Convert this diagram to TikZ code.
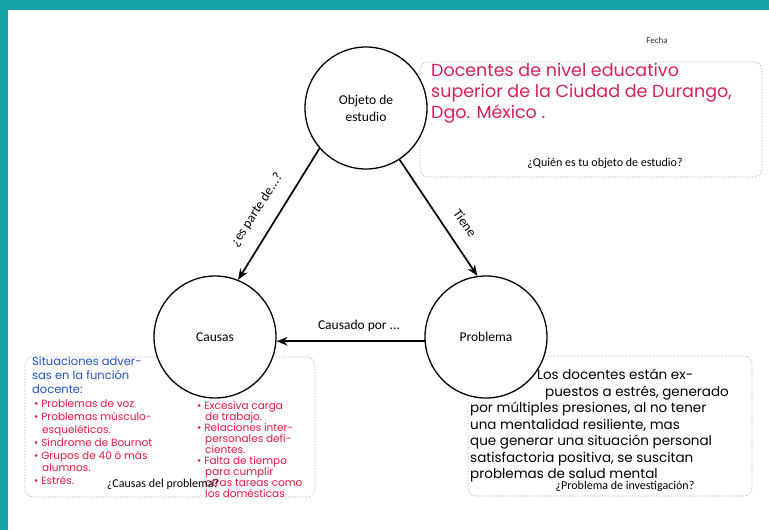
\documentclass[tikz,border=0pt]{standalone}
\usepackage{fontspec}
\setmainfont{Carlito}
\newfontfamily\hand{Poppins}
\usetikzlibrary{arrows.meta, positioning}

\definecolor{frameteal}{RGB}{22,162,166}
\definecolor{inkpink}{RGB}{214,32,92}
\definecolor{inkred}{RGB}{230,22,68}
\definecolor{inkblue}{RGB}{34,82,190}

\begin{document}
\begin{tikzpicture}[
    x=1pt, y=-1pt,
    topic/.style={
        circle, draw, line width=1.3pt, fill=white,
        minimum size=122pt, inner sep=0pt,
        font=\fontsize{13.5}{17}\selectfont, align=center
    },
    note/.style={
        draw=gray!55, dash pattern=on 1.5pt off 1.5pt,
        line width=0.6pt, rounded corners=8pt
    },
    ask/.style={font=\fontsize{12}{14}\selectfont},
    ink/.style={anchor=north west, inner sep=0pt, align=left},
    lbl/.style={font=\fontsize{13.5}{16}\selectfont},
    arr/.style={-{Stealth[length=11pt, width=8.5pt]}, line width=1.7pt},
]

\useasboundingbox (0,0) rectangle (769,530);

% frame
\fill[frameteal] (0,0) rectangle (769,10);
\fill[frameteal] (0,0) rectangle (8,530);

\begin{scope}
\clip (600,37) rectangle (720,50);
\node[font=\fontsize{9}{10}\selectfont, text=black!80] (fecha) at (657,40) {Fecha};
\end{scope}

% Notes: dashed boxes
\node[note, minimum width=342pt, minimum height=115pt] (quienbox) at (591,119.5) {};
\node[note, minimum width=290pt, minimum height=140pt] (causasbox) at (170,427) {};
\node[note, minimum width=284pt, minimum height=140pt] (problemabox) at (610,426) {};

% Circles
\node[topic] (objeto) at (366,108) {Objeto de\\estudio};
\node[topic] (causas) at (215,337) {Causas};
\node[topic] (problema) at (486,337) {Problema};

% Arrows
\draw[arr] (objeto.221) -- (causas.68);
\draw[arr] (objeto.303) -- (problema.98);
\draw[arr] (problema.184) -- (causas.356);

\node[lbl, rotate=57] (parte) at (257,210) {¿es parte de...?};
\node[lbl, rotate=-55] (tiene) at (465,223) {Tiene};
\node[lbl] (causado) at (359,326) {Causado por ...};

% Objeto de estudio note
\node[ink, text=inkpink, font=\hand\fontsize{17.5}{21}\selectfont] (quientext) at (431,63)
    {Docentes de nivel educativo\\superior de la Ciudad de Durango,\\Dgo. México .};
\node[ask] (quienq) at (605,163) {¿Quién es tu objeto de estudio?};

% Causas note
\node[ink, text=inkblue, font=\hand\fontsize{11.5}{14}\selectfont] (causastext) at (32,357)
    {Situaciones adver-\\sas en la función\\docente:};
\node[ink, text=inkred, font=\hand\fontsize{10.5}{12.8}\selectfont] (causasleft) at (34,400)
    {\textbullet\ Problemas de voz\\\textbullet\ Problemas músculo-\\\hspace*{8pt}esqueléticos.\\\textbullet\ Síndrome de Bournot\\\textbullet\ Grupos de 40 ó más\\\hspace*{8pt}alumnos.\\\textbullet\ Estrés.};
\node[ink, text=inkred, font=\hand\fontsize{10.5}{11}\selectfont] (causasright) at (197,401)
    {\textbullet\ Excesiva carga\\\hspace*{8pt}de trabajo.\\\textbullet\ Relaciones inter-\\\hspace*{8pt}personales defi-\\\hspace*{8pt}cientes.\\\textbullet\ Falta de tiempo\\\hspace*{8pt}para cumplir\\\hspace*{8pt}otras tareas como\\\hspace*{8pt}los domésticas};
\node[ask] (causasq) at (163,484) {¿Causas del problema?};

% Problema note
\node[ink, font=\hand\fontsize{13.5}{16.5}\selectfont] (problematext) at (470,369)
    {\hspace*{67pt}Los docentes están ex-\\\hspace*{75pt}puestos a estrés, generado\\por múltiples presiones, al no tener\\una mentalidad resiliente, mas\\que generar una situación personal\\satisfactoria positiva, se suscitan\\problemas de salud mental};
\node[ask] (problemaq) at (625,486) {¿Problema de investigación?};

\end{tikzpicture}
\end{document}
